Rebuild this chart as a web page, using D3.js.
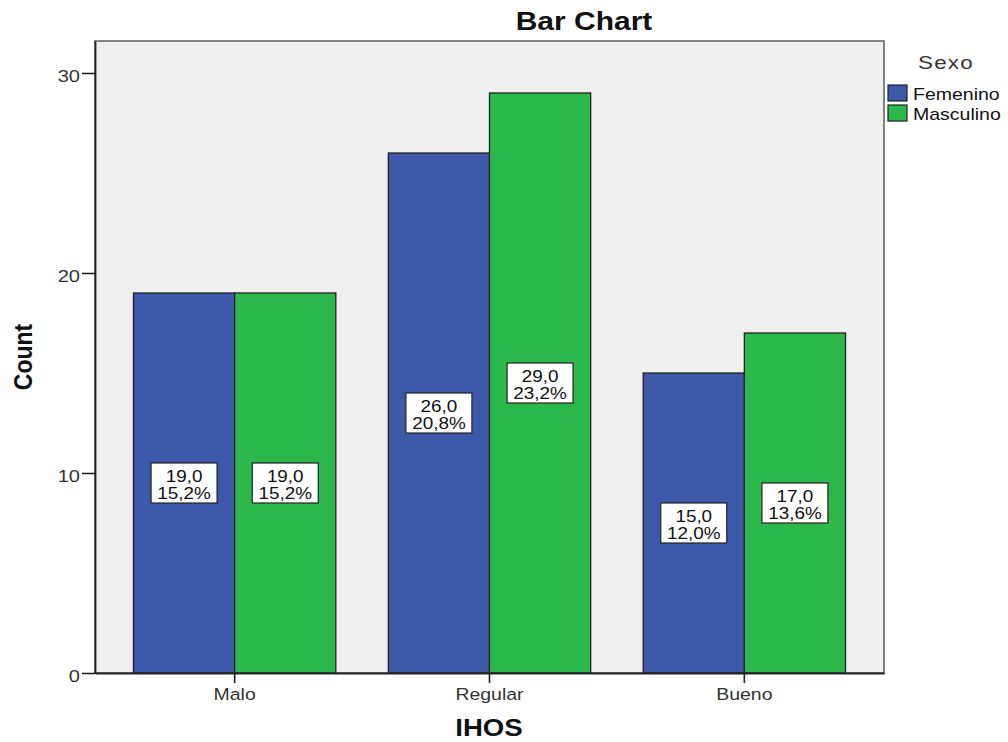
<!DOCTYPE html>
<html>
<head>
<meta charset="utf-8">
<script src="https://cdn.jsdelivr.net/npm/d3@7"></script>
<style>
  html, body { margin: 0; padding: 0; background: #fff; }
  svg { display: block; font-family: "Liberation Sans", Arial, sans-serif; }
</style>
</head>
<body>
<svg id="chart" width="1008" height="742"></svg>
<script>
// IHOS categories and counts per sex
const categories = ["Malo", "Regular", "Bueno"];
const seriesNames = ["Femenino", "Masculino"];
const femenino = [19, 26, 15];
const masculino = [19, 29, 17];
const yTicks = [0, 10, 20, 30];
const total = 125;

const colors = { Femenino: "#3d57a9", Masculino: "#2db84b" };
const WIDE = 1.18; // horizontal widening applied to all text

const rows = categories.map((c, i) => ({
  category: c,
  values: [
    { key: "Femenino", value: femenino[i] },
    { key: "Masculino", value: masculino[i] }
  ]
}));

const svg = d3.select("#chart");
const plot = { left: 95, right: 884, top: 41, bottom: 673 };

const x = d3.scaleBand()
  .domain(categories)
  .range([plot.left, plot.right])
  .paddingInner(0.206)
  .paddingOuter(0.151);

const xs = d3.scaleBand()
  .domain(seriesNames)
  .range([0, x.bandwidth()])
  .padding(0);

const y = d3.scaleLinear()
  .domain([0, 31.6])
  .range([plot.bottom, plot.top]);

// text helper: places a horizontally widened label
function wideText(sel, px, py, s) {
  return sel.attr("x", 0).attr("y", 0)
    .attr("transform", `translate(${px},${py}) scale(${s},1)`);
}

// plot background
svg.append("rect")
  .attr("x", plot.left).attr("y", plot.top)
  .attr("width", plot.right - plot.left)
  .attr("height", plot.bottom - plot.top)
  .attr("fill", "#efefef");

// frame (top / right sides lighter)
svg.append("rect")
  .attr("x", plot.left).attr("y", plot.top)
  .attr("width", plot.right - plot.left)
  .attr("height", plot.bottom - plot.top)
  .attr("fill", "none")
  .attr("stroke", "#666")
  .attr("stroke-width", 1.6);

// bars
const groups = svg.append("g").selectAll("g")
  .data(rows).join("g")
  .attr("transform", d => `translate(${x(d.category)},0)`);

groups.selectAll("rect")
  .data(d => d.values).join("rect")
  .attr("x", d => xs(d.key))
  .attr("y", d => y(d.value))
  .attr("width", xs.bandwidth())
  .attr("height", d => y(0) - y(d.value))
  .attr("fill", d => colors[d.key])
  .attr("stroke", "#222")
  .attr("stroke-width", 1.3);

// value labels: count and percentage in a boxed label at mid-bar
const fmt = v => v.toFixed(1).replace(".", ",");
const labels = groups.selectAll("g.lbl")
  .data(d => d.values).join("g")
  .attr("class", "lbl")
  .attr("transform", d => `translate(${xs(d.key) + xs.bandwidth() / 2},${y(d.value / 2)})`);

labels.append("rect")
  .attr("x", -33).attr("y", -20)
  .attr("width", 66).attr("height", 40)
  .attr("fill", "#fff")
  .attr("stroke", "#222")
  .attr("stroke-width", 1.2);

labels.append("text")
  .attr("text-anchor", "middle")
  .attr("font-size", 16)
  .attr("fill", "#111")
  .call(wideText, 0, -1.5, WIDE)
  .text(d => fmt(d.value));

labels.append("text")
  .attr("text-anchor", "middle")
  .attr("font-size", 16)
  .attr("fill", "#111")
  .call(wideText, 0, 16, WIDE)
  .text(d => fmt(d.value / total * 100) + "%");

// axes
const yAxis = svg.append("g")
  .attr("transform", `translate(${plot.left},0)`)
  .call(d3.axisLeft(y).tickValues(yTicks).tickSize(13).tickSizeOuter(0).tickFormat(d3.format("d")));
yAxis.select(".domain").attr("stroke", "#222").attr("stroke-width", 1.8);
yAxis.selectAll(".tick line").attr("stroke", "#222").attr("stroke-width", 1.6);
yAxis.selectAll(".tick text")
  .attr("font-size", 17).attr("fill", "#333")
  .attr("font-family", "Liberation Sans, Arial, sans-serif")
  .attr("dy", null)
  .call(wideText, -15, 8.5, WIDE);

const xAxis = svg.append("g")
  .attr("transform", `translate(0,${plot.bottom})`)
  .call(d3.axisBottom(x).tickSize(10).tickSizeOuter(0));
xAxis.select(".domain").attr("stroke", "#222").attr("stroke-width", 1.8);
xAxis.selectAll(".tick line").attr("stroke", "#222").attr("stroke-width", 1.6);
xAxis.selectAll(".tick text")
  .attr("font-size", 16.5).attr("fill", "#333")
  .attr("font-family", "Liberation Sans, Arial, sans-serif")
  .attr("dy", null)
  .call(wideText, 0, 26.5, WIDE);

// title and axis titles
svg.append("text")
  .attr("text-anchor", "middle")
  .attr("font-size", 25).attr("font-weight", "bold").attr("fill", "#111")
  .call(wideText, 584, 30, 1.2)
  .text("Bar Chart");

svg.append("text")
  .attr("x", 0).attr("y", 0)
  .attr("transform", "translate(32,357) rotate(-90) scale(1,1.15)")
  .attr("text-anchor", "middle")
  .attr("font-size", 23).attr("font-weight", "bold").attr("fill", "#111")
  .text("Count");

svg.append("text")
  .attr("text-anchor", "middle")
  .attr("font-size", 24).attr("font-weight", "bold").attr("fill", "#111")
  .call(wideText, 489, 736, 1.15)
  .text("IHOS");

// legend
const legend = svg.append("g");
legend.append("text")
  .attr("text-anchor", "middle")
  .attr("font-size", 19).attr("fill", "#333")
  .attr("letter-spacing", 1)
  .call(wideText, 946, 69, WIDE)
  .text("Sexo");

const items = legend.selectAll("g.item")
  .data(seriesNames).join("g")
  .attr("class", "item")
  .attr("transform", (d, i) => `translate(888,${85 + i * 20})`);
items.append("rect")
  .attr("width", 19).attr("height", 16)
  .attr("fill", d => colors[d])
  .attr("stroke", "#222").attr("stroke-width", 1.2);
items.append("text")
  .attr("font-size", 16).attr("fill", "#111")
  .call(wideText, 25, 15, 1.22)
  .text(d => d);
</script>
</body>
</html>
